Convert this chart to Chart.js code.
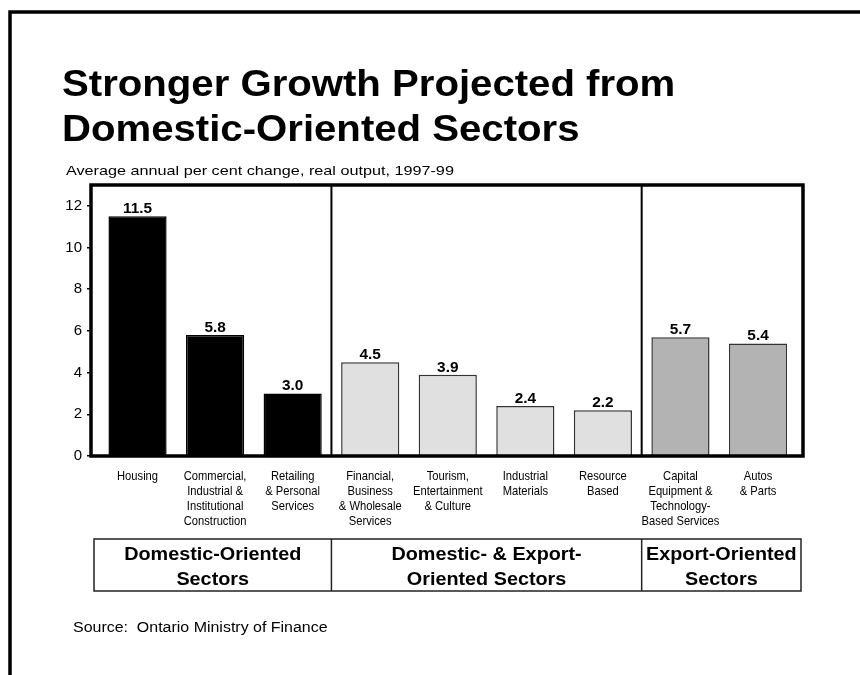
<!DOCTYPE html>
<html>
<head>
<meta charset="utf-8">
<script src="https://cdn.jsdelivr.net/npm/chart.js@4/dist/chart.umd.min.js"></script>
<style>
	html, body { margin: 0; padding: 0; background: #fff; }
	#wrap { width: 860px; height: 675px; }
</style>
</head>
<body>
<div id="wrap"><canvas id="sectors-chart" width="860" height="675"></canvas></div>
<script>
var sectorLabels = [
	['Housing'],
	['Commercial,', 'Industrial &', 'Institutional', 'Construction'],
	['Retailing', '& Personal', 'Services'],
	['Financial,', 'Business', '& Wholesale', 'Services'],
	['Tourism,', 'Entertainment', '& Culture'],
	['Industrial', 'Materials'],
	['Resource', 'Based'],
	['Capital', 'Equipment &', 'Technology-', 'Based Services'],
	['Autos', '& Parts']
]
var growth = [11.5, 5.8, 3.0, 4.5, 3.9, 2.4, 2.2, 5.7, 5.4]
var sectorGroup = [0, 0, 0, 1, 1, 1, 1, 2, 2]
var groupNames = [
	['Domestic-Oriented', 'Sectors'],
	['Domestic- & Export-', 'Oriented Sectors'],
	['Export-Oriented', 'Sectors']
]
var yTicks = [0, 2, 4, 6, 8, 10, 12]

var groupFill = ['#000000', '#e0e0e0', '#b3b3b3']
var groupEdge = ['#000000', '#333333', '#333333']
var FONT = "'Liberation Sans', Arial, sans-serif"

// text drawn with a horizontal scale factor (wider or narrower than the font)
function wideText(ctx, text, x, y, font, sx, align) {
	ctx.save()
	ctx.font = font
	ctx.fillStyle = '#000'
	ctx.textAlign = align || 'left'
	ctx.textBaseline = 'alphabetic'
	ctx.translate(x, y)
	ctx.scale(sx, 1)
	ctx.fillText(text, 0, 0)
	ctx.restore()
}

var slideDecor = {
	id: 'slideDecor',
	beforeDraw: function(chart) {
		var ctx = chart.ctx
		// page frame
		ctx.save()
		ctx.strokeStyle = '#000'
		ctx.lineWidth = 3.5
		ctx.beginPath()
		ctx.moveTo(10, 675)
		ctx.lineTo(10, 12)
		ctx.lineTo(860, 12)
		ctx.stroke()
		ctx.restore()

		wideText(ctx, 'Stronger Growth Projected from', 62, 96, 'bold 36px ' + FONT, 1.115)
		wideText(ctx, 'Domestic-Oriented Sectors', 62, 141, 'bold 36px ' + FONT, 1.115)
		wideText(ctx, 'Average annual per cent change, real output, 1997-99', 66, 175, '13.5px ' + FONT, 1.2)
		wideText(ctx, 'Source:  Ontario Ministry of Finance', 73, 632, '14px ' + FONT, 1.14)
	},
	afterDatasetsDraw: function(chart) {
		var ctx = chart.ctx
		var area = chart.chartArea
		var xs = chart.scales.x
		var meta = chart.getDatasetMeta(0)

		// value labels over the bars
		meta.data.forEach(function(bar, i) {
			wideText(ctx, growth[i].toFixed(1), bar.x, bar.y - 3, 'bold 14px ' + FONT, 1.1, 'center')
		})

		// sector names under each bar, set in a condensed face
		sectorLabels.forEach(function(lines, i) {
			var cx = xs.getPixelForValue(i)
			lines.forEach(function(line, k) {
				wideText(ctx, line, cx, area.bottom + 24 + k * 15, '13px ' + FONT, 0.86, 'center')
			})
		})

		// group edges sit between the last bar of one group and the first of the next
		var edges = []
		for (var i = 1; i < sectorGroup.length; i++) {
			if (sectorGroup[i] !== sectorGroup[i - 1]) edges.push(xs.getPixelForValue(i - 0.5))
		}

		ctx.save()
		ctx.strokeStyle = '#000'
		ctx.lineWidth = 2
		edges.forEach(function(ex) {
			ctx.beginPath()
			ctx.moveTo(ex, area.top)
			ctx.lineTo(ex, area.bottom)
			ctx.stroke()
		})
		ctx.lineWidth = 3.5
		ctx.strokeRect(area.left, area.top, area.right - area.left, area.bottom - area.top)
		ctx.restore()

		// group boxes under the sector names
		var boxL = area.left + 3, boxR = area.right - 2, boxT = 539, boxB = 591
		var cols = [boxL].concat(edges, [boxR])
		ctx.save()
		ctx.strokeStyle = '#222'
		ctx.lineWidth = 1.5
		ctx.strokeRect(boxL, boxT, boxR - boxL, boxB - boxT)
		edges.forEach(function(ex) {
			ctx.beginPath()
			ctx.moveTo(ex, boxT)
			ctx.lineTo(ex, boxB)
			ctx.stroke()
		})
		ctx.restore()
		groupNames.forEach(function(lines, g) {
			var cx = (cols[g] + cols[g + 1]) / 2
			lines.forEach(function(line, k) {
				wideText(ctx, line, cx, 560 + k * 25, 'bold 18px ' + FONT, 1.1, 'center')
			})
		})
	}
}

var ctx = document.getElementById('sectors-chart').getContext('2d')
var myChart = new Chart(ctx, {
	type: 'bar',
	data: {
		datasets: [{
			data: growth.map(function(v, i) { return { x: i, y: v } }),
			backgroundColor: sectorGroup.map(function(g) { return groupFill[g] }),
			borderColor: sectorGroup.map(function(g) { return groupEdge[g] }),
			borderWidth: 1.5,
			categoryPercentage: 1,
			barPercentage: 0.75
		}]
	},
	options: {
		responsive: false,
		animation: false,
		devicePixelRatio: 1,
		layout: { padding: { left: 0, right: 57, top: 185, bottom: 0 } },
		plugins: {
			legend: { display: false },
			tooltip: { enabled: false }
		},
		scales: {
			x: {
				type: 'linear',
				offset: false,
				min: -0.6,
				max: 8.58,
				afterFit: function(scale) { scale.height = 219 },
				// one tick per sector so the bar width follows the sector spacing
				afterBuildTicks: function(scale) {
					scale.ticks = sectorLabels.map(function(l, i) { return { value: i } })
				},
				grid: { display: false, drawTicks: false },
				border: { display: false },
				ticks: { display: false }
			},
			y: {
				min: 0,
				max: 13,
				afterFit: function(scale) { scale.width = 91 },
				afterBuildTicks: function(scale) {
					scale.ticks = yTicks.map(function(v) { return { value: v } })
				},
				grid: { drawOnChartArea: false, drawTicks: true, tickLength: 4, color: '#000', lineWidth: 1.5 },
				border: { display: false },
				ticks: {
					padding: 5,
					color: '#000',
					font: { family: FONT, size: 15 }
				}
			}
		}
	},
	plugins: [slideDecor]
})
</script>
</body>
</html>
